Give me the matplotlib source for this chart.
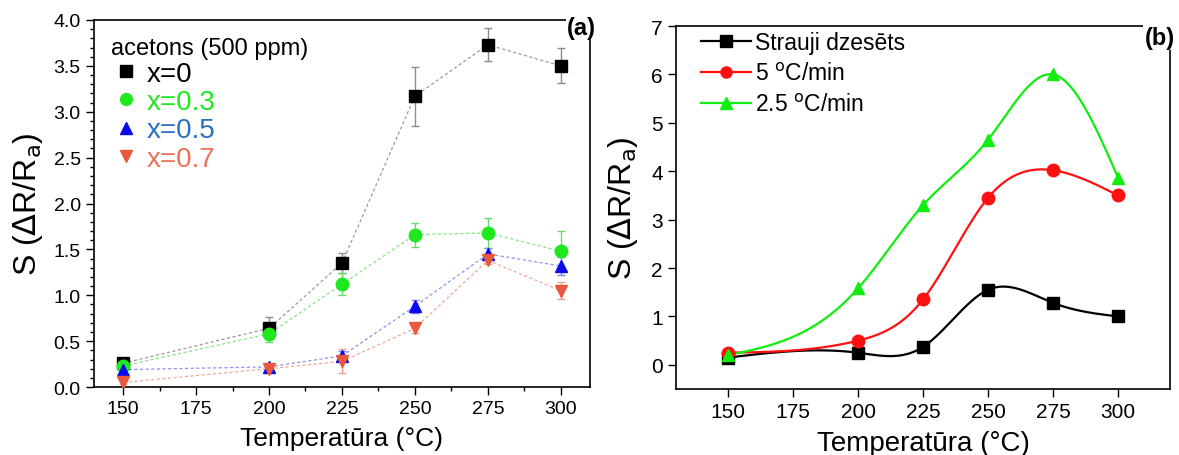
import numpy as np
import matplotlib
matplotlib.use('Agg')
from matplotlib import pyplot as plt
from matplotlib.lines import Line2D
from matplotlib.ticker import MultipleLocator

plt.rcParams['font.family'] = ['Liberation Sans', 'DejaVu Sans']

# panel (a) data
temps_a = [150, 200, 225, 250, 275, 300]
s_x0 = [0.26, 0.64, 1.35, 3.17, 3.73, 3.50]
e_x0 = [0.02, 0.12, 0.11, 0.32, 0.18, 0.19]
s_x03 = [0.23, 0.58, 1.12, 1.66, 1.68, 1.48]
e_x03 = [0.02, 0.09, 0.12, 0.13, 0.16, 0.22]
s_x05 = [0.19, 0.22, 0.34, 0.88, 1.45, 1.32]
e_x05 = [0.02, 0.03, 0.05, 0.07, 0.07, 0.10]
s_x07 = [0.05, 0.20, 0.28, 0.64, 1.38, 1.05]
e_x07 = [0.02, 0.04, 0.13, 0.05, 0.04, 0.09]
labels_a = ['x=0', 'x=0.3', 'x=0.5', 'x=0.7']

# panel (b) data
temps_b = [150, 200, 225, 250, 275, 300]
s_fast = [0.15, 0.25, 0.37, 1.55, 1.28, 1.00]
s_5 = [0.25, 0.50, 1.35, 3.45, 4.02, 3.50]
s_25 = [0.20, 1.58, 3.30, 4.65, 6.00, 3.87]
labels_b = ['Strauji dzesēts', '5 $^{\\mathrm{o}}$C/min', '2.5 $^{\\mathrm{o}}$C/min']


def natural_spline(x, y, xs):
    x = np.asarray(x, float)
    y = np.asarray(y, float)
    n = len(x)
    h = np.diff(x)
    A = np.zeros((n, n))
    b = np.zeros(n)
    A[0, 0] = A[-1, -1] = 1
    for i in range(1, n - 1):
        A[i, i - 1] = h[i - 1]
        A[i, i] = 2 * (h[i - 1] + h[i])
        A[i, i + 1] = h[i]
        b[i] = 3 * ((y[i + 1] - y[i]) / h[i] - (y[i] - y[i - 1]) / h[i - 1])
    c = np.linalg.solve(A, b)
    bb = (y[1:] - y[:-1]) / h - h * (2 * c[:-1] + c[1:]) / 3
    d = (c[1:] - c[:-1]) / (3 * h)
    idx = np.clip(np.searchsorted(x, xs) - 1, 0, n - 2)
    dx = xs - x[idx]
    return y[idx] + bb[idx] * dx + c[idx] * dx ** 2 + d[idx] * dx ** 3


fig = plt.figure(figsize=(11.79, 4.56), dpi=100)
ax1 = fig.add_axes([0.0797, 0.149, 0.4207, 0.805])
ax2 = fig.add_axes([0.5734, 0.1447, 0.419, 0.796])

# ---- panel (a)
series = [
    (s_x0, e_x0, 's', 'black', '#9a9a9a', '#8c8c8c', 'black', 8),
    (s_x03, e_x03, 'o', '#1ee81e', '#80e880', '#66dd66', '#1ee81e', 9),
    (s_x05, e_x05, '^', '#0a0aee', '#9090f0', '#8a8af0', '#2a6fc0', 9),
    (s_x07, e_x07, 'v', '#e8583c', '#f0a898', '#f0a090', '#e8735a', 9),
]
handles = []
for vals, errs, mk, col, lcol, ecol, tcol, ms in series:
    ax1.plot(temps_a, vals, color=lcol, lw=0.9, ls=(0, (2.5, 2)), zorder=1)
    ax1.errorbar(temps_a, vals, yerr=errs, fmt='none', ecolor=ecol,
                 elinewidth=1.0, capsize=3, capthick=1.0, zorder=2)
    ax1.plot(temps_a, vals, ls='none', marker=mk, color=col, ms=ms, zorder=3)
    handles.append(Line2D([], [], ls='none', marker=mk, color=col, ms=8.5))

ax1.set_xlim(140, 310)
ax1.set_ylim(0, 4)
ax1.xaxis.set_minor_locator(MultipleLocator(12.5))
ax1.yaxis.set_major_locator(MultipleLocator(0.5))
ax1.yaxis.set_minor_locator(MultipleLocator(0.1))
ax1.set_xticks([150, 175, 200, 225, 250, 275, 300])
ax1.yaxis.set_major_formatter(matplotlib.ticker.FormatStrFormatter('%.1f'))
ax1.tick_params(which='major', direction='out', length=6, width=1, labelsize=14)
ax1.tick_params(which='minor', direction='out', length=3, width=1)
ax1.set_xlabel('Temperatūra (°C)', fontsize=19, labelpad=6)
ax1.set_ylabel('S ($\\Delta$R/R$_\\mathrm{a}$)', fontsize=23, labelpad=6)

leg = ax1.legend(handles, labels_a, loc='upper left', frameon=False,
                 title='acetons (500 ppm)', title_fontsize=17, fontsize=20,
                 handlelength=1.1, handletextpad=0.2, labelspacing=0.08,
                 borderaxespad=0.2, bbox_to_anchor=(0.0, 1.0))
leg._legend_box.align = 'left'
for txt, s in zip(leg.get_texts(), series):
    txt.set_color(s[6])
ax1.text(1.012, 1.012, '(a)', transform=ax1.transAxes, ha='right', va='top',
         fontsize=17, fontweight='bold',
         bbox=dict(facecolor='white', edgecolor='none', pad=1))

# ---- panel (b)
xs = np.linspace(150, 300, 400)
curves = [(s_fast, 's', 'black'), (s_5, 'o', '#ff1010'), (s_25, '^', '#10ee10')]
for (vals, mk, col), lab in zip(curves, labels_b):
    ax2.plot(xs, natural_spline(temps_b, vals, xs), color=col, lw=1.6, zorder=2)
    ax2.plot(temps_b, vals, ls='none', marker=mk, color=col, ms=9, zorder=3)
bh = [Line2D([], [], color=c, lw=1.6, marker=m, ms=8) for _, m, c in curves]
ax2.legend(bh, labels_b, loc='upper left', frameon=False, fontsize=16.5,
           handlelength=2.2, handletextpad=0.15, labelspacing=0.35,
           borderaxespad=0.15, bbox_to_anchor=(0.025, 1.02))

ax2.set_xlim(130, 320)
ax2.set_ylim(-0.5, 7)
ax2.set_xticks([150, 175, 200, 225, 250, 275, 300])
ax2.set_yticks(range(0, 8))
ax2.tick_params(direction='out', length=6, width=1, labelsize=15)
ax2.set_xlabel('Temperatūra (°C)', fontsize=20, labelpad=6)
ax2.set_ylabel('S ($\\Delta$R/R$_\\mathrm{a}$)', fontsize=23, labelpad=8)
ax2.text(1.01, 1.0, '(b)', transform=ax2.transAxes, ha='right', va='top',
         fontsize=17, fontweight='bold',
         bbox=dict(facecolor='white', edgecolor='none', pad=1))

for ax in (ax1, ax2):
    for sp in ax.spines.values():
        sp.set_linewidth(1.2)

fig.savefig('out.png', dpi=100)
